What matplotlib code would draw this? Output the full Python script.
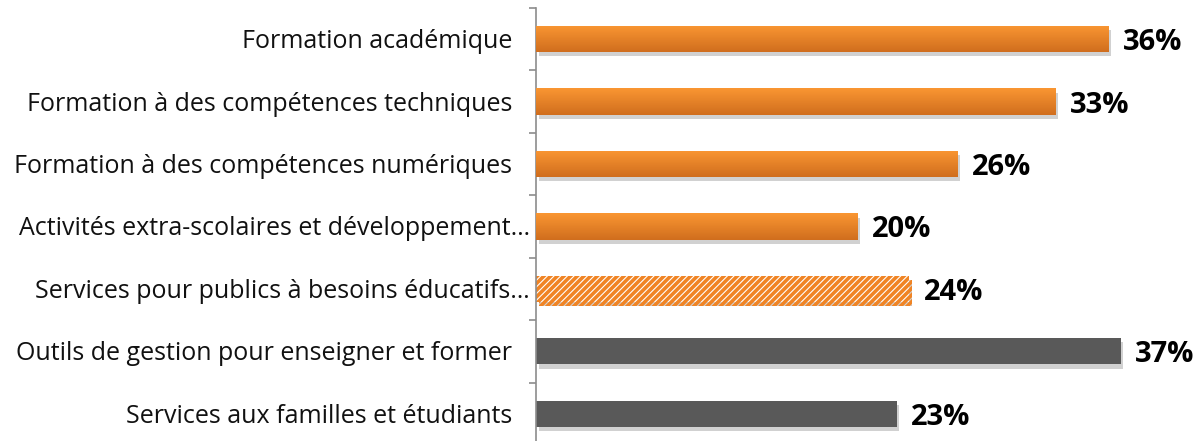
import matplotlib

matplotlib.use("Agg")
import matplotlib.pyplot as plt
import matplotlib.patheffects as pe
import numpy as np
from matplotlib.colors import LinearSegmentedColormap

categories = [
    "Formation académique",
    "Formation à des compétences techniques",
    "Formation à des compétences numériques",
    "Activités extra-scolaires et développement…",
    "Services pour publics à besoins éducatifs…",
    "Outils de gestion pour enseigner et former",
    "Services aux familles et étudiants",
]
# bar lengths, labels are the rounded shares
values = [36.0, 32.7, 26.5, 20.2, 23.5, 36.8, 22.7]
labels = ["36%", "33%", "26%", "20%", "24%", "37%", "23%"]
kinds = ["orange", "orange", "orange", "orange", "hatch", "gray", "gray"]

plt.rcParams["font.family"] = ["Open Sans", "DejaVu Sans"]
plt.rcParams["hatch.linewidth"] = 2.6

orange_top = "#FA9632"
orange_bottom = "#D06E1E"
orange = "#F08424"
gray = "#595959"
axis_gray = "#8C8C8C"

fig = plt.figure(figsize=(12.04, 4.41), dpi=100)
ax = fig.add_axes([0.445, -0.009, 0.555, 0.991])

y = np.arange(len(categories))
shadow = [pe.SimplePatchShadow(offset=(2, -3), shadow_rgbFace="#000000", alpha=0.18), pe.Normal()]
grad = LinearSegmentedColormap.from_list("og", [orange_top, orange_bottom])

for yi, v, lab, kind in zip(y, values, labels, kinds):
    if kind == "hatch":
        b = ax.barh(yi, v, height=0.42, color="white", edgecolor=orange,
                    hatch="/////", linewidth=0, zorder=2)
    elif kind == "gray":
        b = ax.barh(yi, v, height=0.42, color=gray, linewidth=0, zorder=2)
    else:
        b = ax.barh(yi, v, height=0.42, color=orange, linewidth=0, zorder=2)
    patch = b.patches[0]
    patch.set_path_effects(shadow)
    if kind == "orange":
        # vertical gradient, light on top
        x0, y0 = patch.get_x(), patch.get_y()
        w, h = patch.get_width(), patch.get_height()
        img = ax.imshow(np.linspace(0, 1, 64).reshape(-1, 1), cmap=grad, aspect="auto",
                        extent=(x0, x0 + w, y0 + h, y0), origin="upper",
                        zorder=3, interpolation="bilinear")
        img.set_clip_path(patch)
    ax.annotate(lab, xy=(v, yi), xytext=(10.5, -2.5), textcoords="offset points",
                va="center", ha="left", fontsize=21, fontweight="bold",
                color="black", zorder=4)
    # category labels; the cut ones sit closer to the axis
    pad = 4 if categories[yi].endswith("…") else 17
    ax.annotate(categories[yi], xy=(0, yi), xytext=(-pad, -1.8), textcoords="offset points",
                va="center", ha="right", fontsize=18, color="#111111",
                annotation_clip=False)

ax.set_xlim(0, 42.04)
ax.set_ylim(len(categories) - 0.5, -0.5)
ax.set_yticks([])
ax.set_yticks(np.arange(-0.5, len(categories), 1), minor=True)
ax.tick_params(axis="y", which="minor", length=5, width=1.2, color=axis_gray)
ax.set_xticks([])
for side in ["top", "right", "bottom"]:
    ax.spines[side].set_visible(False)
ax.spines["left"].set_color(axis_gray)
ax.spines["left"].set_linewidth(1.2)

fig.savefig("out.png", dpi=100)
